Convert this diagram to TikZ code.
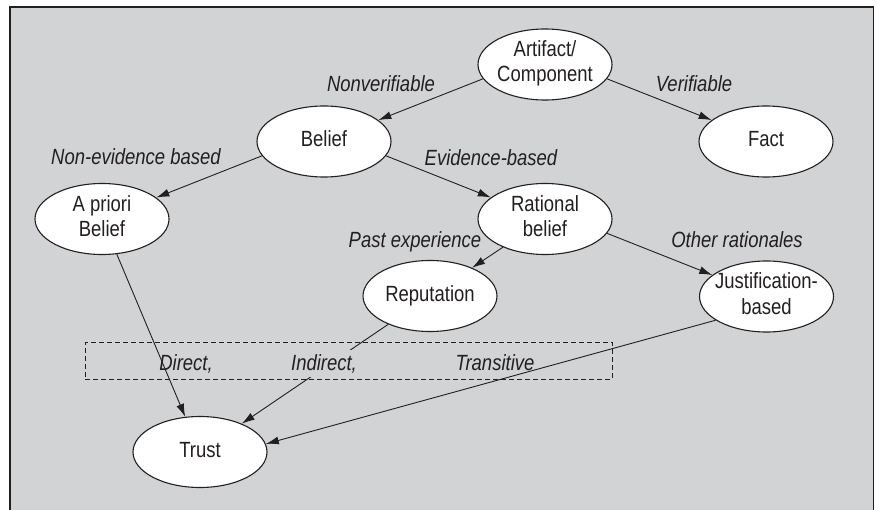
\documentclass[tikz,border=0pt]{standalone}
\usepackage{fontspec}
\setmainfont{Liberation Sans}[FakeStretch=0.84]
\usetikzlibrary{shapes.geometric,arrows.meta}
\definecolor{bg}{RGB}{209,211,212}
\definecolor{ink}{RGB}{35,31,32}
\newcommand{\celltext}[1]{\makebox[0pt]{\begin{tabular}{@{}c@{}}#1\end{tabular}}}
\begin{document}
\begin{tikzpicture}[x=1pt,y=-1pt,
  ell/.style={ellipse,draw=ink,fill=white,line width=1.1pt,minimum width=134pt,minimum height=71pt,inner sep=0pt,text=ink,font=\fontsize{22}{25}\selectfont},
  lbl/.style={anchor=base,inner sep=0pt,text=ink,font=\fontsize{22}{25}\selectfont\itshape},
  arr/.style={draw=ink,line width=0.9pt,-{Latex[length=13pt,width=8pt]}},
  groupbox/.style={draw=ink,line width=0.9pt,dash pattern=on 5pt off 3pt,minimum width=526.6pt,minimum height=37pt,inner sep=0pt}]
\clip (0,0) rectangle (877,510);
\fill[white] (0,0) rectangle (877,510);
\filldraw[fill=bg,draw=ink,line width=1.5pt] (10,7) rectangle (873.5,525);
% nodes
\node[ell] (art) at (545,64.5) {\celltext{Artifact/\\Component}};
\node[ell] (bel) at (324,141.5) {\celltext{Belief}};
\node[ell] (fact) at (766,141.5) {\celltext{Fact}};
\node[ell] (apr) at (102,219) {\celltext{A priori\\Belief}};
\node[ell] (rat) at (545,219) {\celltext{Rational\\belief}};
\node[ell] (rep) at (430,296) {\celltext{Reputation}};
\node[ell] (jus) at (766.5,296.5) {\celltext{Justification-\\based}};
\node[ell] (tru) at (200,452) {\celltext{Trust}};
\node[groupbox] (grp) at (348.7,360.8) {};
% connectors
\draw[arr] (art.193) -- (bel);
\draw[arr] (art.347) -- (fact);
\draw[arr] (bel.193) -- (apr);
\draw[arr] (bel.347) -- (rat);
\draw[arr] (rat) -- (rep);
\draw[arr] (rat.347) -- (jus);
\draw[arr] (apr) -- (tru);
\draw[arr] (rep) -- (tru);
\draw[arr] (jus.205) -- (tru.7);
% labels
\node[lbl] (lnv) at (381,91.7) {Nonverifiable};
\node[lbl] (lv) at (694,92) {Verifiable};
\node[lbl] (lne) at (136,165) {Non-evidence based};
\node[lbl] (leb) at (491,166) {Evidence-based};
\node[lbl] (lpe) at (415,248) {Past experience};
\node[lbl] (lor) at (737,248) {Other rationales};
\node[lbl] (ldi) at (186,370) {Direct,};
\node[lbl,fill=bg,inner sep=4pt] (lin) at (324,370) {Indirect,};
\node[lbl] (ltr) at (495,370) {Transitive};
\end{tikzpicture}
\end{document}
